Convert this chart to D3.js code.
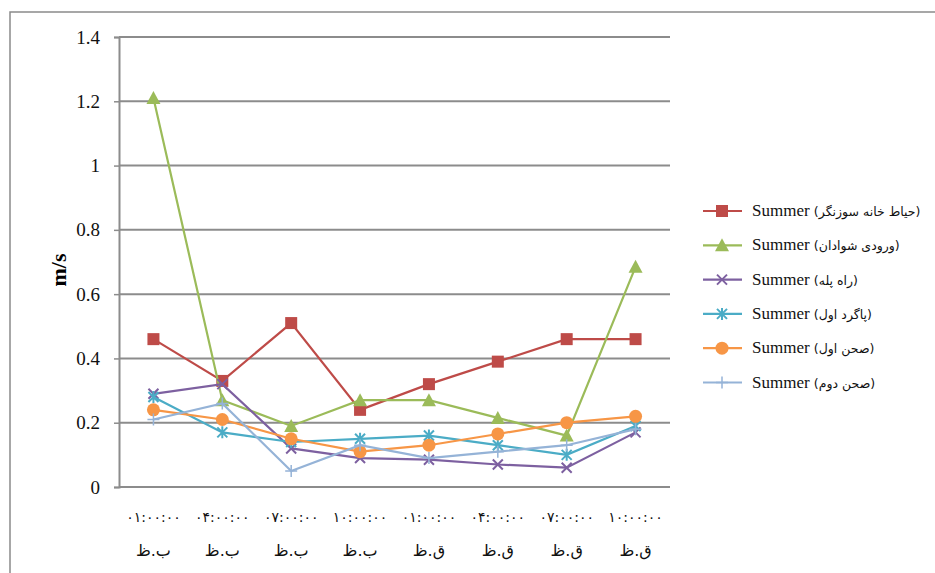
<html>
<head>
<meta charset='utf-8'>
<script src='https://d3js.org/d3.v7.min.js'></script>
<style>
body { margin: 0; background-color: white; }
</style>
</head>
<body>
<svg width=935 height=573></svg>
<script>
// category labels: two lines each (time, then AM/PM in Persian)
const timeLabels = ['۰۱:۰۰:۰۰', '۰۴:۰۰:۰۰', '۰۷:۰۰:۰۰', '۱۰:۰۰:۰۰', '۰۱:۰۰:۰۰', '۰۴:۰۰:۰۰', '۰۷:۰۰:۰۰', '۱۰:۰۰:۰۰']
const ampmLabels = ['ب.ظ', 'ب.ظ', 'ب.ظ', 'ب.ظ', 'ق.ظ', 'ق.ظ', 'ق.ظ', 'ق.ظ']
const yTicks = [0, 0.2, 0.4, 0.6, 0.8, 1, 1.2, 1.4]

const seriesNames = ['حیاط خانه سوزنگر', 'ورودی شوادان', 'راه پله', 'پاگرد اول', 'صحن اول', 'صحن دوم']
const hayat = [0.46, 0.33, 0.51, 0.24, 0.32, 0.39, 0.46, 0.46]
const voroodi = [1.21, 0.27, 0.19, 0.27, 0.27, 0.215, 0.16, 0.685]
const rahPeleh = [0.29, 0.32, 0.12, 0.09, 0.085, 0.07, 0.06, 0.17]
const pagard = [0.28, 0.17, 0.14, 0.15, 0.16, 0.13, 0.10, 0.19]
const sahn1 = [0.24, 0.21, 0.15, 0.11, 0.13, 0.165, 0.20, 0.22]
const sahn2 = [0.21, 0.26, 0.05, 0.13, 0.09, 0.11, 0.13, 0.18]

const colors = ['#BE4B48', '#9BBB59', '#7D60A0', '#4BACC6', '#F79646', '#95B3D7']
const shapes = ['square', 'triangle', 'x', 'star', 'circle', 'plus']
const allValues = [hayat, voroodi, rahPeleh, pagard, sahn1, sahn2]

const svg = d3.select('svg')
const plotLeft = 119, plotRight = 670, plotTop = 37, plotBottom = 487

// outer frame
svg.append('rect')
	.attr('x', 10).attr('y', 12).attr('width', 940).attr('height', 600)
	.attr('fill', 'none').attr('stroke', '#8a8a8a').attr('stroke-width', 1.5)

const x = d3.scaleBand().domain(d3.range(timeLabels.length)).range([plotLeft, plotRight])
const y = d3.scaleLinear().domain([0, 1.4]).range([plotBottom, plotTop])

// gridlines
svg.append('g')
	.selectAll('line').data(yTicks.filter(t => t > 0)).enter().append('line')
	.attr('x1', plotLeft).attr('x2', plotRight)
	.attr('y1', d => y(d)).attr('y2', d => y(d))
	.attr('stroke', '#8c8c8c').attr('stroke-width', 2)

// y axis
const yAxis = svg.append('g')
	.attr('transform', 'translate(' + plotLeft + ',0)')
	.call(d3.axisLeft(y).tickValues(yTicks).tickSize(5).tickPadding(14).tickFormat(d => d.toString()))
yAxis.select('.domain').attr('stroke', '#8c8c8c').attr('stroke-width', 2)
yAxis.selectAll('.tick line').attr('stroke', '#8c8c8c').attr('stroke-width', 1.5)
yAxis.selectAll('.tick text')
	.style('font-family', 'Liberation Serif, serif')
	.style('font-size', '19px')
	.attr('fill', '#111')

// x axis line
svg.append('line')
	.attr('x1', plotLeft).attr('x2', plotRight).attr('y1', plotBottom).attr('y2', plotBottom)
	.attr('stroke', '#8c8c8c').attr('stroke-width', 2)

// x labels
const xl = svg.append('g')
xl.selectAll('text.time').data(timeLabels).enter().append('text')
	.attr('class', 'time')
	.attr('x', (d, i) => x(i) + x.bandwidth() / 2)
	.attr('y', 522)
	.attr('text-anchor', 'middle')
	.style('font-family', 'DejaVu Sans, sans-serif')
	.style('font-size', '14px')
	.style('letter-spacing', '1px')
	.attr('fill', '#111')
	.text(d => d)
xl.selectAll('text.ampm').data(ampmLabels).enter().append('text')
	.attr('class', 'ampm')
	.attr('x', (d, i) => x(i) + x.bandwidth() / 2)
	.attr('y', 556)
	.attr('text-anchor', 'middle')
	.style('font-family', 'DejaVu Sans, sans-serif')
	.style('font-size', '16px')
	.attr('fill', '#111')
	.text(d => d)

// y title
svg.append('text')
	.attr('transform', 'translate(66,270) rotate(-90)')
	.attr('text-anchor', 'middle')
	.style('font-family', 'Liberation Serif, serif')
	.style('font-size', '22px')
	.style('font-weight', 'bold')
	.text('m/s')

function drawMarker(g, shape, color, cx, cy) {
	if (shape === 'square') {
		g.append('rect').attr('x', cx - 6).attr('y', cy - 6).attr('width', 12).attr('height', 12).attr('fill', color)
	} else if (shape === 'triangle') {
		g.append('path').attr('d', `M${cx},${cy - 7}L${cx + 7},${cy + 6}L${cx - 7},${cy + 6}Z`).attr('fill', color)
	} else if (shape === 'x') {
		g.append('path').attr('d', `M${cx - 5},${cy - 5}L${cx + 5},${cy + 5}M${cx - 5},${cy + 5}L${cx + 5},${cy - 5}`)
			.attr('stroke', color).attr('stroke-width', 2)
	} else if (shape === 'star') {
		g.append('path').attr('d', `M${cx - 5},${cy - 5}L${cx + 5},${cy + 5}M${cx - 5},${cy + 5}L${cx + 5},${cy - 5}M${cx},${cy - 6}L${cx},${cy + 6}`)
			.attr('stroke', color).attr('stroke-width', 2)
	} else if (shape === 'circle') {
		g.append('circle').attr('cx', cx).attr('cy', cy).attr('r', 6.5).attr('fill', color)
	} else if (shape === 'plus') {
		g.append('path').attr('d', `M${cx - 6},${cy}L${cx + 6},${cy}M${cx},${cy - 6}L${cx},${cy + 6}`)
			.attr('stroke', color).attr('stroke-width', 1.5)
	}
}

const line = d3.line().x((d, i) => x(i) + x.bandwidth() / 2).y(d => y(d))

allValues.forEach((vals, s) => {
	const g = svg.append('g')
	g.append('path').datum(vals)
		.attr('d', line)
		.attr('fill', 'none')
		.attr('stroke', colors[s])
		.attr('stroke-width', 2.2)
	vals.forEach((v, i) => drawMarker(g, shapes[s], colors[s], x(i) + x.bandwidth() / 2, y(v)))
})

// legend
const legend = svg.append('g')
seriesNames.forEach((name, s) => {
	const ly = 211 + s * 34.3
	legend.append('line')
		.attr('x1', 703).attr('x2', 742).attr('y1', ly).attr('y2', ly)
		.attr('stroke', colors[s]).attr('stroke-width', 2.2)
	drawMarker(legend, shapes[s], colors[s], 722, ly)
	const t = legend.append('text')
		.attr('x', 752).attr('y', ly + 5)
		.style('font-family', 'Liberation Serif, serif')
		.style('font-size', '17px')
		.attr('fill', '#111')
	t.append('tspan').text('Summer ')
	t.append('tspan')
		.style('font-family', 'DejaVu Sans, sans-serif')
		.style('font-size', '12.5px')
		.text('(' + name + ')')
})
</script>
</body>
</html>
